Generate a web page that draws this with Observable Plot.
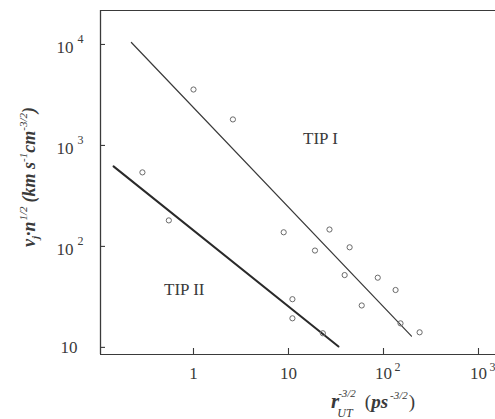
<!DOCTYPE html>
<html>
<head>
<meta charset="utf-8">
<script src="https://cdn.jsdelivr.net/npm/d3@7"></script>
<script src="https://cdn.jsdelivr.net/npm/@observablehq/plot@0.6"></script>
<style>
  html, body { margin: 0; padding: 0; background: #fff; }
  #chart { width: 495px; height: 419px; }
  svg { font-family: "Liberation Serif", "DejaVu Serif", serif; }
</style>
</head>
<body>
<div id="chart"></div>
<script>
// ---- data ----
const tip1X = [1.0, 2.6, 8.9, 27, 19, 44, 39, 87, 134, 59, 151, 240];
const tip1Y = [3580, 1810, 138, 147, 91, 98, 52, 49, 37, 26, 17.3, 14.1];
const tip2X = [0.29, 0.55, 11, 11, 23];
const tip2Y = [541, 181, 30, 19.4, 13.8];

// fitted lines (end points)
const fit1X = [0.222, 197];
const fit1Y = [10460, 12.9];
const fit2X = [0.144, 33.6];
const fit2Y = [620, 10.2];

// scales / ticks
const xDomain = [0.105, 1510];
const yDomain = [8.5, 21700];
const xTickValues = [1, 10, 100, 1000];
const xTickBases = ["1", "10", "10", "10"];
const xTickExps = ["", "", "2", "3"];
const yTickValues = [10, 100, 1000, 10000];
const yTickBases = ["10", "10", "10", "10"];
const yTickExps = ["", "2", "3", "4"];

// annotations
const labelText = ["TIP I", "TIP II"];
const labelX = [21.7, 0.80];
const labelY = [1170, 37.5];

// ---- build tables ----
const pts1 = tip1X.map((x, i) => ({x, y: tip1Y[i]}));
const pts2 = tip2X.map((x, i) => ({x, y: tip2Y[i]}));
const line1 = fit1X.map((x, i) => ({x, y: fit1Y[i]}));
const line2 = fit2X.map((x, i) => ({x, y: fit2Y[i]}));
const xTicks = xTickValues.map((v, i) => ({v, base: xTickBases[i], exp: xTickExps[i]}));
const yTicks = yTickValues.map((v, i) => ({v, base: yTickBases[i], exp: yTickExps[i]}));
const labels = labelText.map((t, i) => ({t, x: labelX[i], y: labelY[i]}));

const ink = "#3a3a3a";
const font = "Liberation Serif";

const plot = Plot.plot({
  width: 495,
  height: 419,
  marginLeft: 100,
  marginTop: 10,
  marginBottom: 65,
  marginRight: 0,
  style: {fontFamily: font, background: "#fff", color: ink},
  x: {type: "log", domain: xDomain, axis: null},
  y: {type: "log", domain: yDomain, axis: null},
  marks: [
    // frame lines (left, bottom, top)
    Plot.ruleX([xDomain[0]], {stroke: ink, strokeWidth: 1.3}),
    Plot.ruleY([yDomain[0]], {stroke: ink, strokeWidth: 1.2}),
    Plot.ruleY([yDomain[1]], {stroke: ink, strokeWidth: 1.2}),
    // inward ticks
    Plot.axisY({ticks: yTickValues, tickSize: -5, tickFormat: () => "", stroke: ink, strokeWidth: 1.1}),
    Plot.axisX({ticks: xTickValues, tickSize: -6, tickFormat: () => "", stroke: ink, strokeWidth: 1.1}),
    // y tick labels
    Plot.text(yTicks.filter(d => d.exp), {y: "v", text: "base", frameAnchor: "left", textAnchor: "end", dx: -27, dy: 3, fontSize: 17, fill: ink}),
    Plot.text(yTicks.filter(d => !d.exp), {y: "v", text: "base", frameAnchor: "left", textAnchor: "end", dx: -23, dy: 0, fontSize: 17, fill: ink}),
    Plot.text(yTicks.filter(d => d.exp), {y: "v", text: "exp", frameAnchor: "left", textAnchor: "start", dx: -23, dy: -5, fontSize: 12, fill: ink}),
    // x tick labels
    Plot.text(xTicks, {x: "v", text: "base", frameAnchor: "bottom", dy: 24, fontSize: 17, fill: ink}),
    Plot.text(xTicks.filter(d => d.exp), {x: "v", text: "exp", frameAnchor: "bottom", textAnchor: "start", dx: 11, dy: 16, fontSize: 12, fill: ink}),
    // fitted lines
    Plot.line(line1, {x: "x", y: "y", stroke: ink, strokeWidth: 1.2}),
    Plot.line(line2, {x: "x", y: "y", stroke: "#2a2a2a", strokeWidth: 2}),
    // data points
    Plot.dot(pts1, {x: "x", y: "y", r: 2.6, stroke: "#6a6a6a", strokeWidth: 1, fill: "none"}),
    Plot.dot(pts2, {x: "x", y: "y", r: 2.6, stroke: "#6a6a6a", strokeWidth: 1, fill: "none"}),
    // labels
    Plot.text(labels, {x: "x", y: "y", text: "t", fontSize: 17, fill: ink, letterSpacing: -0.5})
  ]
});
document.getElementById("chart").appendChild(plot);

// ---- axis titles with sub/superscripts ----
const svg = d3.select(plot);
const g = svg.append("g").attr("fill", ink).attr("font-family", font);

// x title: r_UT^{-3/2} (ps^{-3/2})
g.append("text").attr("x", 335).attr("y", 408).attr("font-size", 21)
  .attr("font-weight", "bold").attr("font-style", "italic").text("r");
g.append("text").attr("x", 347).attr("y", 397).attr("font-size", 11)
  .attr("font-style", "italic").text("-3/2");
g.append("text").attr("x", 345).attr("y", 417).attr("font-size", 12)
  .attr("font-style", "italic").text("UT");
const xt = g.append("text").attr("x", 390).attr("y", 408).attr("font-size", 19);
xt.append("tspan").text("(");
xt.append("tspan").attr("font-weight", "bold").attr("font-style", "italic").text("ps");
xt.append("tspan").attr("font-size", 11).attr("font-style", "italic").attr("dy", -9).attr("dx", 2).text("-3/2");
xt.append("tspan").attr("dy", 9).attr("dx", 1).text(")");

// y title: v_j·n^{1/2} (km s^{-1} cm^{-3/2})
const yt = g.append("text").attr("transform", "translate(35,177) rotate(-90)")
  .attr("text-anchor", "middle").attr("font-size", 18)
  .attr("font-style", "italic").attr("font-weight", "bold");
yt.append("tspan").text("v");
yt.append("tspan").attr("font-size", 11).attr("dy", 4).text("j");
yt.append("tspan").attr("dy", -4).text("·n");
yt.append("tspan").attr("font-size", 11).attr("font-weight", "normal").attr("dy", -8).attr("dx", 1).text("1/2");
yt.append("tspan").attr("dy", 8).attr("dx", 4).text("(km s");
yt.append("tspan").attr("font-size", 11).attr("font-weight", "normal").attr("dy", -8).text("-1");
yt.append("tspan").attr("dy", 8).text("cm");
yt.append("tspan").attr("font-size", 11).attr("font-weight", "normal").attr("dy", -8).text("-3/2");
yt.append("tspan").attr("dy", 8).text(")");
</script>
</body>
</html>
